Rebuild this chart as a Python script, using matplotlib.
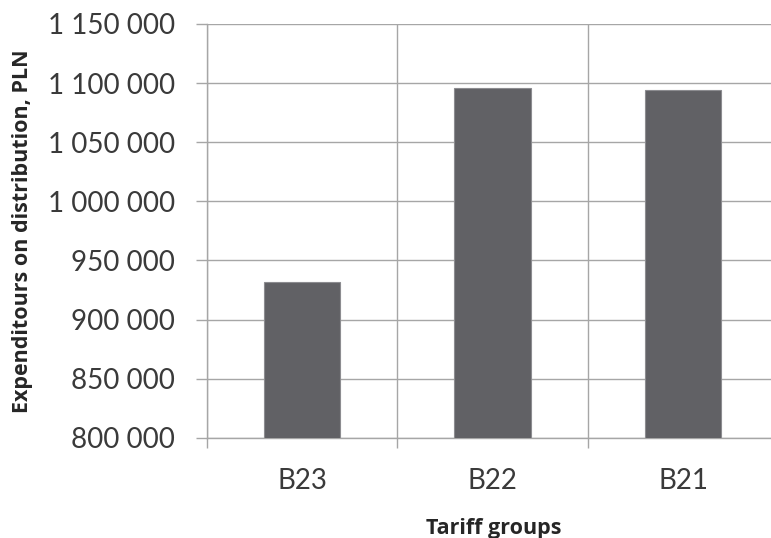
import matplotlib
matplotlib.use("Agg")
from matplotlib import pyplot as plt
from matplotlib import ticker as mticker

# data
tariff_groups = ["B23", "B22", "B21"]
expenditures = [931500, 1096100, 1093900]
y_min, y_max, y_step = 800000, 1150000, 50000

plt.rcParams['font.family'] = ['Lato', 'DejaVu Sans']

fig = plt.figure(figsize=(7.71, 5.38), dpi=100)
# the plot area runs past the right edge of the picture, as in the original
ax = fig.add_axes([0.2681, 0.1864, 0.7416, 0.769])

x = list(range(len(tariff_groups)))
ax.bar(x, expenditures, width=0.4, color='#616165', edgecolor='#8c8c90', linewidth=0.8, zorder=3)

ax.set_xlim(-0.5, len(tariff_groups) - 0.5)
ax.set_ylim(y_min, y_max)
ax.yaxis.set_major_locator(mticker.MultipleLocator(y_step))
ax.yaxis.set_major_formatter(mticker.FuncFormatter(lambda v, p: f"{int(v):,}".replace(",", " ")))

# category separators as major ticks, names as minor ticks
ax.set_xticks([i + 0.5 for i in x[:-1]] + [-0.5])
ax.set_xticklabels([])
ax.set_xticks(x, minor=True)
ax.set_xticklabels(tariff_groups, minor=True)

grid_col = '#a6a6a6'
ax.grid(True, which='major', color=grid_col, linewidth=1.0, zorder=0)
for s in ['top', 'right']:
    ax.spines[s].set_visible(False)
for s in ['left', 'bottom']:
    ax.spines[s].set_color(grid_col)
    ax.spines[s].set_linewidth(1.0)

ax.tick_params(axis='y', which='major', length=7.9, width=1.0, color=grid_col,
               pad=15, labelsize=20, labelcolor='#3a3a3a')
ax.tick_params(axis='x', which='major', length=7.4, width=1.0, color=grid_col)
ax.tick_params(axis='x', which='minor', length=0, pad=22, labelsize=20, labelcolor='#3a3a3a')

label_font = ['Open Sans', 'DejaVu Sans']
fig.text(0.029, 0.5697, 'Expenditours on distribution, PLN', rotation=90, family=label_font,
         ha='center', va='center', fontsize=15.5, fontweight='bold', color='#262626')
fig.text(494 / 771, 0.0075, 'Tariff groups', ha='center', va='baseline', family=label_font,
         fontsize=15.5, fontweight='bold', color='#262626')

fig.savefig('out.png', dpi=100)
